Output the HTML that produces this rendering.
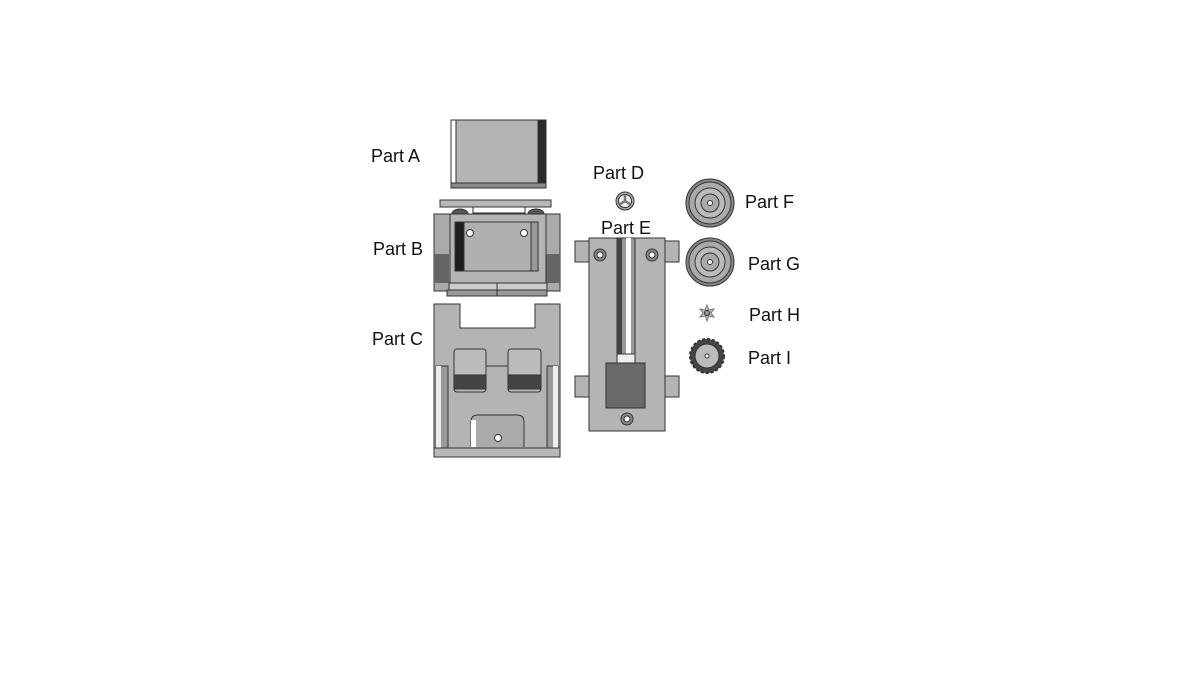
<!DOCTYPE html>
<html><head><meta charset="utf-8"><style>
html,body{margin:0;padding:0;background:#fff;width:1200px;height:675px;overflow:hidden}
svg{display:block}
text{font-family:"Liberation Sans",sans-serif;font-size:18px;fill:#111}
</style></head><body>
<svg width="1200" height="675" viewBox="0 0 1200 675" xmlns="http://www.w3.org/2000/svg">
<g stroke="#333" stroke-width="1">
<!-- Part A -->
<rect x="451" y="120" width="95" height="68" fill="#b4b4b4"/>
<rect x="451" y="120" width="5" height="63" fill="#fff"/>
<rect x="538" y="120" width="8" height="63" fill="#2a2a2a"/>
<rect x="451" y="183" width="95" height="5" fill="#8a8a8a"/>
<!-- Part B -->
<rect x="440" y="200" width="111" height="7" fill="#b8b8b8"/>
<rect x="473" y="207" width="52" height="6" fill="#fff"/>
<ellipse cx="460" cy="214" rx="8" ry="5" fill="#555"/>
<ellipse cx="536" cy="214" rx="8" ry="5" fill="#555"/>
<rect x="434" y="214" width="126" height="77" fill="#aaa"/>
<rect x="434" y="254" width="15" height="29" fill="#666" stroke="none"/>
<rect x="546" y="254" width="14" height="29" fill="#666" stroke="none"/>
<rect x="450" y="214" width="96" height="75" fill="#b4b4b4"/>
<rect x="455" y="222" width="83" height="49" fill="#b0b0b0"/>
<rect x="455" y="222" width="9" height="49" fill="#1e1e1e"/>
<rect x="531" y="222" width="7" height="49" fill="#999"/>
<circle cx="470" cy="233" r="3.5" fill="#fff"/>
<circle cx="524" cy="233" r="3.5" fill="#fff"/>
<rect x="449" y="283" width="98" height="7" fill="#ccc"/>
<rect x="447" y="290" width="100" height="6" fill="#999"/>
<line x1="497" y1="283" x2="497" y2="296"/>
<!-- Part C -->
<path d="M434 304 H460 V328 H535 V304 H560 V457 H434 Z" fill="#b4b4b4"/>
<rect x="436" y="366" width="12" height="84" fill="#999"/>
<rect x="436" y="366" width="5" height="84" fill="#eee" stroke="none"/>
<rect x="547" y="366" width="11" height="84" fill="#999"/>
<rect x="553" y="366" width="5" height="84" fill="#eee" stroke="none"/>
<rect x="454" y="349" width="32" height="43" rx="3" fill="#bbb"/>
<rect x="454" y="375" width="32" height="14" fill="#444"/>
<rect x="508" y="349" width="33" height="43" rx="3" fill="#bbb"/>
<rect x="508" y="375" width="33" height="14" fill="#444"/>
<line x1="486" y1="366" x2="508" y2="366"/>
<path d="M471 447 V422 Q471 415 478 415 H517 Q524 415 524 422 V447" fill="#ababab"/>
<rect x="471" y="420" width="5" height="27" fill="#fff" stroke="none"/>
<circle cx="498" cy="438" r="3.5" fill="#fff"/>
<rect x="434" y="448" width="126" height="9" fill="#b8b8b8"/>
<!-- Part E -->
<rect x="575" y="241" width="104" height="21" fill="#b4b4b4"/>
<rect x="575" y="376" width="104" height="21" fill="#b4b4b4"/>
<rect x="589" y="238" width="76" height="193" fill="#b4b4b4"/>
<rect x="617" y="238" width="18" height="124" fill="#999"/>
<rect x="617" y="238" width="5" height="124" fill="#444" stroke="none"/>
<rect x="626" y="238" width="5" height="124" fill="#fff" stroke="none"/>
<rect x="617" y="354" width="18" height="10" fill="#eee"/>
<rect x="606" y="363" width="39" height="45" fill="#6a6a6a"/>
<circle cx="600" cy="255" r="6" fill="#888"/><circle cx="600" cy="255" r="3" fill="#fff"/>
<circle cx="652" cy="255" r="6" fill="#888"/><circle cx="652" cy="255" r="3" fill="#fff"/>
<circle cx="627" cy="419" r="6" fill="#888"/><circle cx="627" cy="419" r="3" fill="#fff"/>
<!-- Part D -->
<circle cx="625" cy="201" r="9" fill="#aaa"/>
<circle cx="625" cy="201" r="6.5" fill="#eee"/>
<path d="M625 201 L625 194.5 M625 201 L619.5 204.5 M625 201 L630.5 204.5" stroke="#777" stroke-width="2.5"/>
<!-- Part F -->
<circle cx="710" cy="203" r="24" fill="#888"/>
<circle cx="710" cy="203" r="21" fill="#aaa"/>
<circle cx="710" cy="203" r="15" fill="#bbb"/>
<circle cx="710" cy="203" r="9" fill="#aaa"/>
<circle cx="710" cy="203" r="2.5" fill="#fff"/>
<!-- Part G -->
<circle cx="710" cy="262" r="24" fill="#888"/>
<circle cx="710" cy="262" r="21" fill="#aaa"/>
<circle cx="710" cy="262" r="15" fill="#bbb"/>
<circle cx="710" cy="262" r="9" fill="#aaa"/>
<circle cx="710" cy="262" r="2.5" fill="#fff"/>
<!-- Part H -->
<path d="M707 313 m0 -8 l2 5 l5 -1 l-3 4 l3 4 l-5 -1 l-2 5 l-2 -5 l-5 1 l3 -4 l-3 -4 l5 1 z" fill="#bbb" stroke="#777"/>
<circle cx="707" cy="313" r="2.5" fill="#999"/>
<!-- Part I -->
<circle cx="707" cy="356" r="17" fill="#444" stroke-dasharray="3 2" stroke-width="2"/>
<circle cx="707" cy="356" r="12" fill="#bbb"/>
<circle cx="707" cy="356" r="2" fill="#fff"/>
</g>
<text x="371" y="162">Part A</text>
<text x="373" y="255">Part B</text>
<text x="372" y="345">Part C</text>
<text x="593" y="179">Part D</text>
<text x="601" y="234">Part E</text>
<text x="745" y="208">Part F</text>
<text x="748" y="270">Part G</text>
<text x="749" y="321">Part H</text>
<text x="748" y="364">Part I</text>
</svg>
</body></html>
